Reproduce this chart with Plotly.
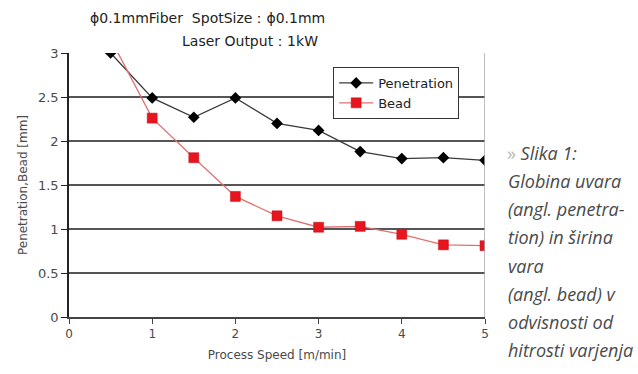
import plotly.graph_objects as go

# Process speed [m/min]
speed = [0.5, 1.0, 1.5, 2.0, 2.5, 3.0, 3.5, 4.0, 4.5, 5.0]
# Penetration depth [mm]
penetration = [3.0, 2.49, 2.27, 2.49, 2.20, 2.12, 1.88, 1.80, 1.81, 1.78]
# Bead width [mm]
bead = [3.16, 2.26, 1.81, 1.37, 1.15, 1.02, 1.03, 0.94, 0.82, 0.81]

y_ticks = [0, 0.5, 1, 1.5, 2, 2.5, 3]
y_ticktext = ["0", "0.5", "1", "1.5", "2", "2.5", "3"]
x_ticks = [0, 1, 2, 3, 4, 5]

caption = [
    "Globina uvara",
    "(angl. penetra-",
    "tion) in širina",
    "vara",
    "(angl. bead) v",
    "odvisnosti od",
    "hitrosti varjenja",
]

chart_font = "DejaVu Sans"
text_col = "#4a4a4a"

fig = go.Figure()
fig.add_trace(go.Scatter(
    x=speed, y=penetration, name="Penetration", mode="lines+markers",
    line=dict(color="#3a3a3a", width=1.3),
    marker=dict(symbol="diamond", size=9, color="#000000"),
))
fig.add_trace(go.Scatter(
    x=speed, y=bead, name="Bead", mode="lines+markers",
    line=dict(color="#e07070", width=1.3),
    marker=dict(symbol="square", size=10, color="#e8141e",
                line=dict(color="#c01018", width=0.5)),
))

fig.update_layout(
    width=638, height=374,
    margin=dict(l=69, r=153, t=53, b=57),
    paper_bgcolor="white", plot_bgcolor="white",
    font=dict(family=chart_font, size=12, color=text_col),
    showlegend=True,
    legend=dict(
        x=0.635, y=0.947, xanchor="left", yanchor="top",
        bgcolor="white", bordercolor="#333333", borderwidth=1,
        font=dict(family=chart_font, size=13, color="#222222"),
        tracegroupgap=0, itemwidth=34,
    ),
    xaxis=dict(
        range=[0, 5], tickvals=x_ticks, showgrid=False, zeroline=False,
        showline=True, linecolor="#444444", linewidth=1.5,
        ticks="outside", ticklen=5, tickcolor="#444444",
        tickfont=dict(size=12, color=text_col),
        title=dict(text="Process Speed [m/min]", font=dict(size=12, color=text_col), standoff=10),
        mirror=False,
    ),
    yaxis=dict(
        range=[0, 3], tickvals=y_ticks, ticktext=y_ticktext,
        showgrid=True, gridcolor="#555555", gridwidth=1.5, zeroline=False,
        showline=True, linecolor="#222222", linewidth=1.5,
        ticks="outside", ticklen=6, tickcolor="#222222",
        tickfont=dict(size=13, color=text_col),
        title=dict(text="Penetration,Bead [mm]", font=dict(size=12, color=text_col), standoff=8),
    ),
)

# right border of the plot area
fig.add_shape(type="line", xref="x", yref="paper", x0=5, x1=5, y0=0, y1=1,
              line=dict(color="#aaaaaa", width=1.5))

# chart header
fig.add_annotation(text="ϕ0.1mmFiber  SpotSize：ϕ0.1mm", xref="paper", yref="paper",
                   x=0.046, y=1.0, yshift=35, xanchor="left", yanchor="middle",
                   showarrow=False, font=dict(family=chart_font, size=14, color="#222222"))
fig.add_annotation(text="Laser Output：1kW", xref="paper", yref="paper",
                   x=0.268, y=1.0, yshift=12, xanchor="left", yanchor="middle",
                   showarrow=False, font=dict(family=chart_font, size=14, color="#222222"))

# figure caption on the right
cap_font = dict(family="Open Sans", size=18, color="#4a4a4a")
fig.add_annotation(text="<span style='color:#b8b8b8'>»</span> <i>Slika 1:</i>",
                   xref="paper", yref="paper", x=1.0, xshift=20, y=1.0, yshift=-100,
                   xanchor="left", yanchor="middle", showarrow=False, font=cap_font)
for i, line in enumerate(caption):
    fig.add_annotation(text="<i>" + line + "</i>", xref="paper", yref="paper",
                       x=1.0, xshift=21, y=1.0, yshift=-128 - 28.2 * i,
                       xanchor="left", yanchor="middle", showarrow=False, font=cap_font)

fig.write_html("out.html")
